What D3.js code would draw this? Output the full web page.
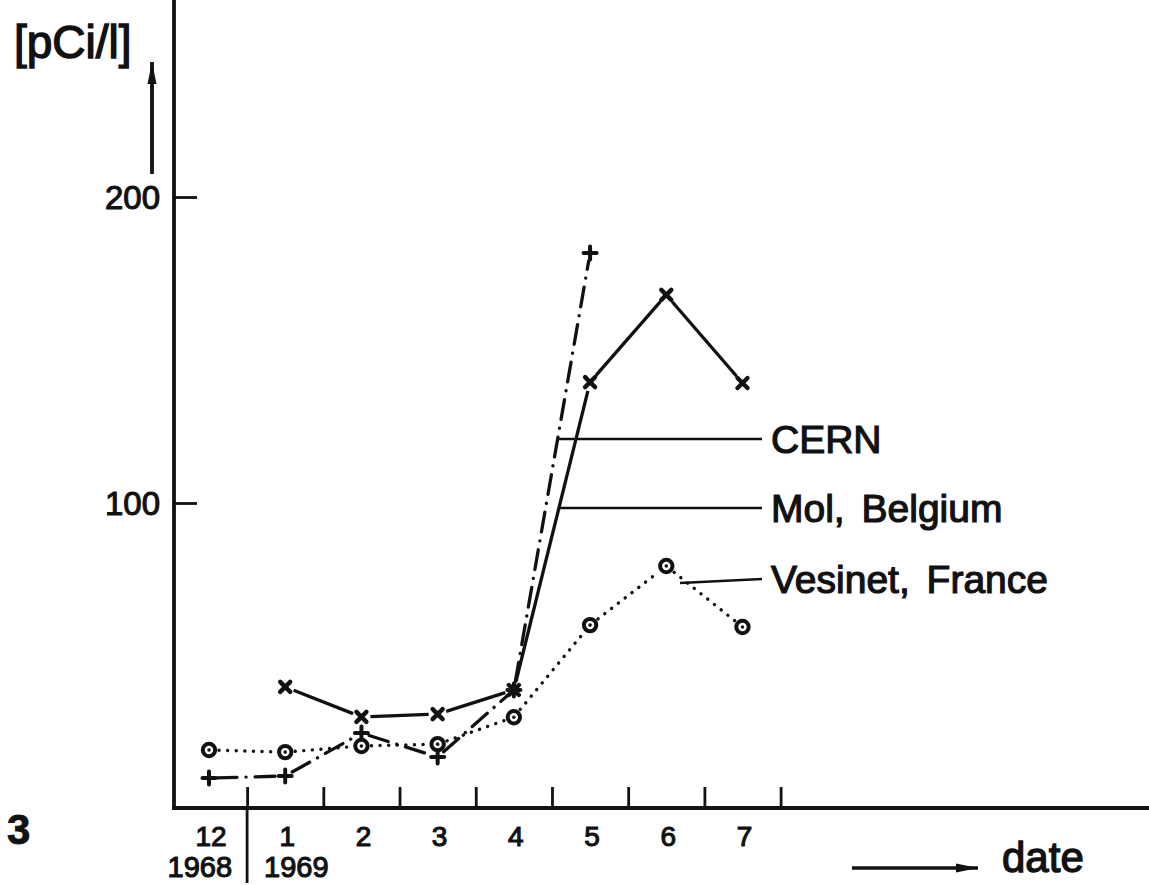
<!DOCTYPE html>
<html>
<head>
<meta charset="utf-8">
<script src="https://cdn.jsdelivr.net/npm/d3@7/dist/d3.min.js"></script>
<style>
  html, body { margin: 0; padding: 0; background: #fff; }
  svg { display: block; }
  text { font-family: "Liberation Sans", Arial, sans-serif; fill: #111; stroke: #111; stroke-width: 1.1; }
</style>
</head>
<body>
<svg id="chart" width="1149" height="885"></svg>
<script>
// ---- data ----
const months = ["12", "1", "2", "3", "4", "5", "6", "7"];
const years = ["1968", "1969"];
const cern = [10.1, 10.8, 24.8, 17.0, 38.9, 181.7, null, null];
const mol = [null, 39.9, 30.1, 31.0, 38.9, 139.5, 168.0, 139.2];
const vesinet = [19.3, 18.6, 20.6, 21.2, 30.0, 60.1, 79.4, 59.5];
const yTicks = [100, 200];
const legendLabels = ["CERN", "Mol, Belgium", "Vesinet, France"];
const unitLabel = "[pCi/l]";
const xLabel = "date";
const figNumber = "3";

// ---- setup ----
const svg = d3.select("#chart");
const ink = "#111";
const x = d3.scaleLinear().domain([0, 7]).range([209, 742.5]);
const y = d3.scaleLinear().domain([0, 200]).range([809, 197]);
const axisX = 174, axisY = 808;

// axes lines
svg.append("line").attr("x1", axisX).attr("x2", axisX).attr("y1", 0).attr("y2", axisY + 2)
  .attr("stroke", ink).attr("stroke-width", 3.8);
svg.append("line").attr("x1", axisX - 1.5).attr("x2", 1149).attr("y1", axisY).attr("y2", axisY)
  .attr("stroke", ink).attr("stroke-width", 3.8);

// y ticks (inside, to the right)
const yAxis = d3.axisRight(y).tickValues(yTicks).tickSize(23).tickFormat("");
const gy = svg.append("g").attr("transform", `translate(${axisX},0)`).call(yAxis);
gy.select(".domain").remove();
gy.selectAll(".tick line").attr("stroke", ink).attr("stroke-width", 2.8);
svg.selectAll(".ylab").data(yTicks).enter().append("text")
  .attr("class", "ylab")
  .attr("x", 160).attr("y", d => y(d) + 12)
  .attr("text-anchor", "end").attr("font-size", 33)
  .text(d => d);

// x ticks (upward), between months
const xTickVals = d3.range(months.length).map(i => i + 0.5);
const xAxis = d3.axisTop(x).tickValues(xTickVals).tickSize(21).tickFormat("");
const gx = svg.append("g").attr("transform", `translate(0,${axisY})`).call(xAxis);
gx.select(".domain").remove();
gx.selectAll(".tick line").attr("stroke", ink).attr("stroke-width", 2.8);
// year separator extended downward
svg.append("line").attr("x1", x(0.5)).attr("x2", x(0.5)).attr("y1", axisY).attr("y2", 883)
  .attr("stroke", ink).attr("stroke-width", 2.8);

// month labels
svg.selectAll(".mlab").data(months).enter().append("text")
  .attr("class", "mlab")
  .attr("x", (d, i) => x(i) + 2).attr("y", 846)
  .attr("text-anchor", "middle").attr("font-size", 28)
  .text(d => d);
// year labels
svg.append("text").attr("x", x(0.5) - 15).attr("y", 877).attr("text-anchor", "end")
  .attr("font-size", 29).text(years[0]);
svg.append("text").attr("x", x(0.5) + 17).attr("y", 877).attr("text-anchor", "start")
  .attr("font-size", 29).text(years[1]);

// unit label + arrow
svg.append("text").attr("x", 14).attr("y", 58).attr("font-size", 46)
  .style("stroke-width", 1.4).text(unitLabel);
const defs = svg.append("defs");
defs.append("marker").attr("id", "arr").attr("viewBox", "0 0 22 12")
  .attr("refX", 22).attr("refY", 6).attr("markerWidth", 22).attr("markerHeight", 12)
  .attr("markerUnits", "userSpaceOnUse").attr("orient", "auto")
  .append("path").attr("d", "M0,1.5 L22,6 L0,10.5 Z").attr("fill", ink);
svg.append("line").attr("x1", 152).attr("x2", 152).attr("y1", 174).attr("y2", 62)
  .attr("stroke", ink).attr("stroke-width", 3.8).attr("marker-end", "url(#arr)");

// date arrow + label
svg.append("line").attr("x1", 852).attr("x2", 978).attr("y1", 868).attr("y2", 868)
  .attr("stroke", ink).attr("stroke-width", 3.5).attr("marker-end", "url(#arr)");
svg.append("text").attr("x", 1002).attr("y", 872).attr("font-size", 42)
  .style("stroke-width", 1.3).text(xLabel);

// figure number
svg.append("text").attr("x", 7).attr("y", 844).attr("font-size", 42)
  .attr("font-weight", "bold").style("stroke-width", 0.8).text(figNumber);

// ---- series ----
const line = d3.line();
function segments(vals, gap) {
  const pts = vals.map((v, i) => v == null ? null : [x(i), y(v)]);
  const segs = [];
  for (let i = 0; i < pts.length - 1; i++) {
    const a = pts[i], b = pts[i + 1];
    if (!a || !b) continue;
    const dx = b[0] - a[0], dy = b[1] - a[1], L = Math.hypot(dx, dy);
    const ux = dx / L, uy = dy / L;
    segs.push([[a[0] + ux * gap, a[1] + uy * gap], [b[0] - ux * gap, b[1] - uy * gap]]);
  }
  return segs;
}

// Vesinet dotted
svg.append("g").selectAll("path").data(segments(vesinet, 10)).enter().append("path")
  .attr("d", d => line(d)).attr("fill", "none").attr("stroke", ink)
  .attr("stroke-width", 3.4).attr("stroke-linecap", "round").attr("stroke-dasharray", "0.1,8.5");
// Mol solid
svg.append("g").selectAll("path").data(segments(mol, 9)).enter().append("path")
  .attr("d", d => line(d)).attr("fill", "none").attr("stroke", ink)
  .attr("stroke-width", 3.3);
// CERN dash-dot
svg.append("g").selectAll("path").data(segments(cern, 8)).enter().append("path")
  .attr("d", d => line(d)).attr("fill", "none").attr("stroke", ink)
  .attr("stroke-width", 3.3).attr("stroke-linecap", "round").attr("stroke-dasharray", "20,9,0.1,9");

// markers
const vPts = vesinet.map((v, i) => ({ i, v })).filter(d => d.v != null);
const gV = svg.append("g").selectAll("g").data(vPts).enter().append("g")
  .attr("transform", d => `translate(${x(d.i)},${y(d.v)})`);
gV.append("circle").attr("r", 6.2).attr("fill", "#fff").attr("stroke", ink).attr("stroke-width", 4);
gV.append("circle").attr("r", 1.8).attr("fill", ink);

const mPts = mol.map((v, i) => ({ i, v })).filter(d => d.v != null);
svg.append("g").selectAll("path").data(mPts).enter().append("path")
  .attr("transform", d => `translate(${x(d.i)},${y(d.v)})`)
  .attr("d", "M-5,-5 L5,5 M-5,5 L5,-5")
  .attr("stroke", ink).attr("stroke-width", 4.4).attr("stroke-linecap", "round");

const cPts = cern.map((v, i) => ({ i, v })).filter(d => d.v != null);
svg.append("g").selectAll("path").data(cPts).enter().append("path")
  .attr("transform", d => `translate(${x(d.i)},${y(d.v)})`)
  .attr("d", "M-6.5,0 L6.5,0 M0,-6.5 L0,6.5")
  .attr("stroke", ink).attr("stroke-width", 4).attr("stroke-linecap", "round");

// ---- legend (leader lines + labels) ----
const legendY = [439, 508, 579];
const legendStartX = [557, 558, 680];
svg.selectAll(".lead").data(legendLabels).enter().append("line")
  .attr("class", "lead")
  .attr("x1", (d, i) => legendStartX[i]).attr("x2", 762)
  .attr("y1", (d, i) => legendY[i] + (i === 2 ? 4 : 0)).attr("y2", (d, i) => legendY[i])
  .attr("stroke", ink).attr("stroke-width", 2.4);
svg.selectAll(".leg").data(legendLabels).enter().append("text")
  .attr("class", "leg")
  .attr("x", 771).attr("y", (d, i) => legendY[i] + 14)
  .attr("font-size", 39).style("stroke-width", 1.2).attr("word-spacing", 6)
  .text(d => d);
</script>
</body>
</html>
